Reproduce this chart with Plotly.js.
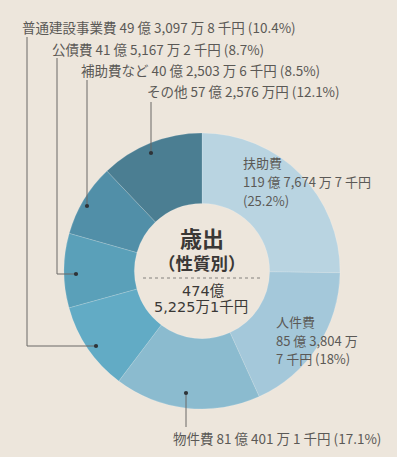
<!DOCTYPE html>
<html><head><meta charset="utf-8">
<script src="https://cdn.plot.ly/plotly-3.0.1.min.js"></script>
<style>html,body{margin:0;padding:0;background:#ede6dc;}#chart{width:397px;height:457px;}</style>
</head><body><div id="chart"></div>
<script>
const categories = ["扶助費","人件費","物件費","普通建設事業費","公債費","補助費など","その他"];
const values = [25.2, 18.0, 17.1, 10.4, 8.7, 8.5, 12.1];
const amounts = ["119 億 7,674 万 7 千円","85 億 3,804 万 7 千円","81 億 401 万 1 千円","49 億 3,097 万 8 千円","41 億 5,167 万 2 千円","40 億 2,503 万 6 千円","57 億 2,576 万円"];
const colors = ["#b9d4e1","#a4c8da","#8bbbcf","#62abc5","#5aa0b9","#518fa8","#4b7e92"];
const totalLabel = ["474億","5,225万1千円"];
const centerTitle = ["歳出","（性質別）"];

const W = 397, H = 457;
const px = x => x / W, py = y => 1 - y / H;
const FONT = "Noto Sans CJK JP";
const lab = "#5b5956";

const trace = {
  type: "pie", labels: categories, values: values, sort: false, direction: "clockwise",
  hole: 0.49, textinfo: "none", hoverinfo: "label+percent",
  marker: {colors: colors, line: {color: "rgba(255,255,255,0.25)", width: 0.6}},
  domain: {x: [px(64), px(340)], y: [py(409), py(133)]}, showlegend: false
};

const ann = [];
function addText(x, y, text, opts) {
  ann.push(Object.assign({xref:"paper", yref:"paper", x: px(x), y: py(y), text: text, showarrow:false,
    xanchor:"left", yanchor:"middle", borderpad:0, font:{family:FONT, size:13.5, color:lab}}, opts||{}));
}
const pct = v => "(" + v + "%)";
addText(21, 27, categories[3] + " " + amounts[3] + " " + pct(values[3]));
addText(51, 49, categories[4] + " " + amounts[4] + " " + pct(values[4]));
addText(80, 70, categories[5] + " " + amounts[5] + " " + pct(values[5]));
addText(146, 91, categories[6] + " " + amounts[6] + " " + pct(values[6]));
const rf = {font:{family:FONT, size:13, color:lab}};
addText(242, 163, categories[0], rf);
addText(242, 181.5, amounts[0], rf);
addText(242, 200, pct(values[0]), rf);
addText(275, 321.5, categories[1], rf);
addText(275, 340, "85 億 3,804 万", rf);
addText(275, 358.5, "7 千円 " + pct(values[1].toFixed(0)), rf);
addText(172, 438, categories[2] + " " + amounts[2] + " " + pct(values[2]));

const dark = "#3a3836";
addText(202, 237, "<b>" + centerTitle[0] + "</b>", {xanchor:"center", font:{family:FONT, size:22, color:dark}});
addText(202, 262, "<b>" + centerTitle[1] + "</b>", {xanchor:"center", font:{family:FONT, size:17.5, color:dark}});
const numFont = {family:"DejaVu Sans, " + FONT, size:14.5, color:dark};
addText(203, 291, totalLabel[0], {xanchor:"center", font:numFont});
addText(201, 306.5, totalLabel[1], {xanchor:"center", font:numFont});

const shapes = [];
const lc = "#6b6966";
function line(pts) {
  let d = "M" + pts.map(p => px(p[0]) + "," + py(p[1])).join(" L");
  shapes.push({type:"path", xref:"paper", yref:"paper", path:d, line:{color:lc, width:1}});
}
function dot(x, y) {
  const r = 2.1;
  shapes.push({type:"circle", xref:"paper", yref:"paper", x0:px(x-r), x1:px(x+r), y0:py(y+r), y1:py(y-r),
    fillcolor:"#2e3338", line:{width:0}});
}
line([[27,37],[27,346],[96,346]]); dot(96,346);
line([[57,58],[57,274],[76,274]]); dot(76,274);
line([[87,80],[87,206]]); dot(87,206);
line([[151,102],[151,153]]); dot(151,153);
line([[186,393],[186,427]]); dot(186,393);
shapes.push({type:"line", xref:"paper", yref:"paper", x0:px(143), x1:px(262), y0:py(278), y1:py(278),
  line:{color:"#6a6866", width:0.8, dash:"dot"}});

const layout = {
  width: W, height: H, margin:{l:0,r:0,t:0,b:0},
  paper_bgcolor:"#ede6dc", plot_bgcolor:"#ede6dc",
  annotations: ann, shapes: shapes, font:{family:FONT}
};
Plotly.newPlot("chart", [trace], layout, {displayModeBar:false, staticPlot:true});
</script></body></html>
